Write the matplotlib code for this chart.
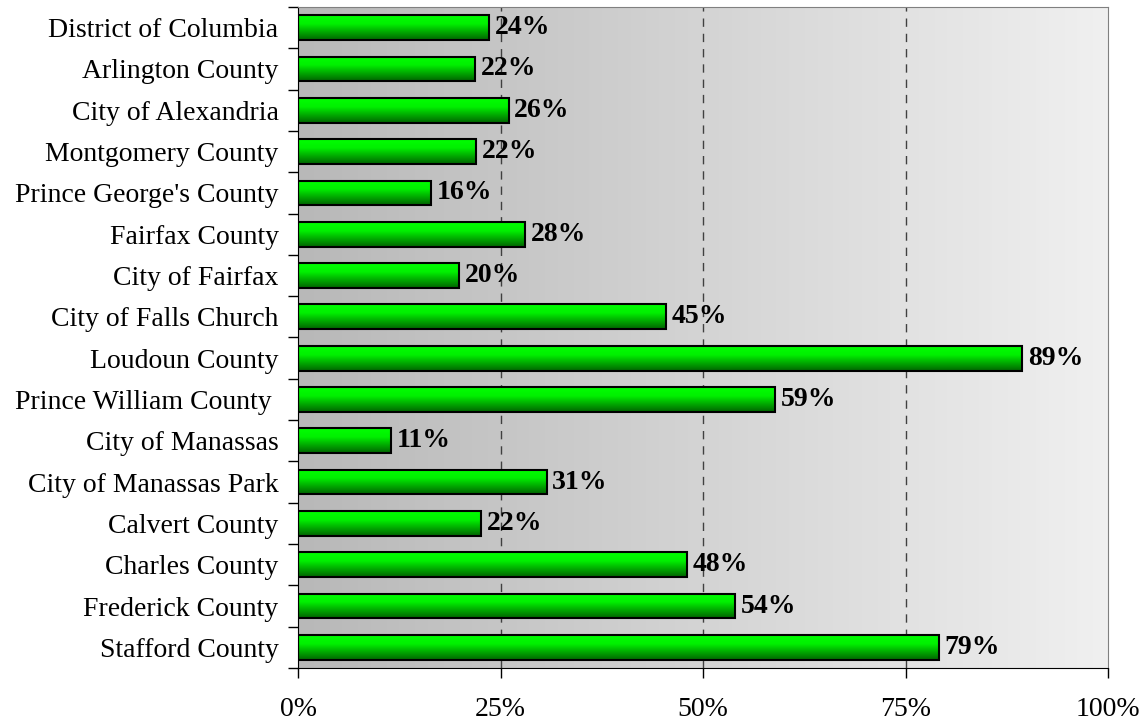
import numpy as np
import matplotlib.pyplot as plt
from matplotlib.colors import LinearSegmentedColormap

# jurisdictions, top to bottom
places = [
    "District of Columbia", "Arlington County", "City of Alexandria",
    "Montgomery County", "Prince George's County", "Fairfax County",
    "City of Fairfax", "City of Falls Church", "Loudoun County",
    "Prince William County ", "City of Manassas", "City of Manassas Park",
    "Calvert County", "Charles County", "Frederick County", "Stafford County",
]
# share in percent
values = [23.6, 21.9, 26.0, 22.0, 16.4, 28.0, 19.9, 45.4, 89.4,
          58.9, 11.5, 30.7, 22.6, 48.0, 54.0, 79.1]
labels = ["24%", "22%", "26%", "22%", "16%", "28%", "20%", "45%", "89%",
          "59%", "11%", "31%", "22%", "48%", "54%", "79%"]
xticks = [0, 25, 50, 75, 100]
xticklabels = ["0%", "25%", "50%", "75%", "100%"]

plt.rcParams['font.family'] = ['Liberation Serif', 'DejaVu Serif']

fig = plt.figure(figsize=(11.48, 7.23), dpi=100)
ax = fig.add_axes([0.2596, 0.0761, 0.7056, 0.9142])

n = len(places)
y = np.arange(n)
ax.set_xlim(0, 100)
ax.set_ylim(n - 0.5, -0.5)

# background gradient, dark grey on the left to light grey on the right
bg = LinearSegmentedColormap.from_list("bg", ["#b8b8b8", "#f0f0f0"])
ax.imshow(np.linspace(0, 1, 256).reshape(1, -1), cmap=bg, aspect="auto",
          extent=[0, 100, n - 0.5, -0.5], zorder=0)

# dashed grid
for xt in xticks[1:-1]:
    ax.axvline(xt, color="#404040", lw=1, ls=(0, (6, 5)), zorder=1)

# bars with vertical green gradient
green = LinearSegmentedColormap.from_list(
    "g", [(0, "#00ff00"), (0.35, "#00f000"), (1, "#006400")])
grad = np.linspace(0, 1, 128).reshape(-1, 1)
bars = ax.barh(y, values, height=0.6, facecolor="none", edgecolor="black",
               lw=1.5, zorder=3)
for b in bars:
    x0, y0 = b.get_x(), b.get_y()
    w, h = b.get_width(), b.get_height()
    im = ax.imshow(grad, cmap=green, aspect="auto",
                   extent=[x0, x0 + w, y0 + h, y0], zorder=2)
    im.set_clip_path(b)

for yi, v, lab in zip(y, values, labels):
    ax.text(v + 0.7, yi, lab, va="center", ha="left", fontsize=20,
            fontweight="bold", zorder=4)

ax.set_xticks(xticks)
ax.set_xticklabels(xticklabels, fontsize=20)
ax.set_yticks(y)
ax.set_yticklabels(places, fontsize=20)
ax.set_yticks(np.arange(n + 1) - 0.5, minor=True)
ax.tick_params(axis="y", which="major", length=0, pad=14)
ax.tick_params(axis="y", which="minor", length=7, width=1, direction="out")
ax.tick_params(axis="x", length=7, width=1, direction="out", pad=14)

for s in ["top", "right"]:
    ax.spines[s].set_color("#808080")
ax.spines["left"].set_color("black")
ax.spines["bottom"].set_color("black")

fig.savefig("out.png", dpi=100)
